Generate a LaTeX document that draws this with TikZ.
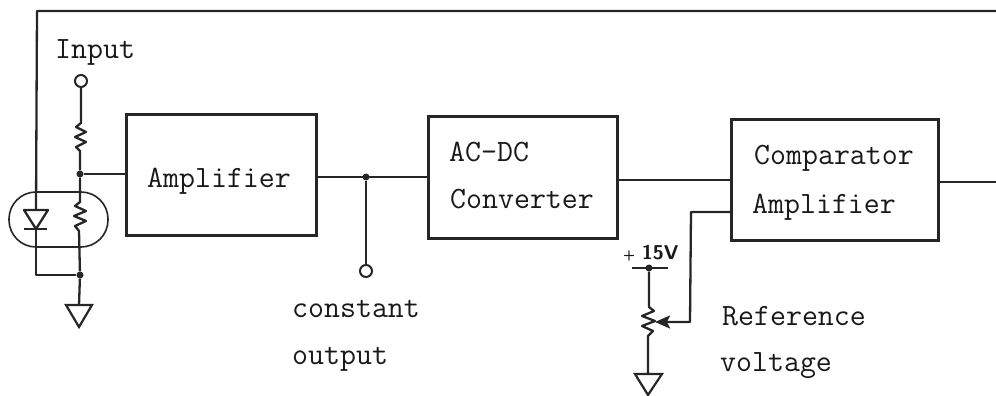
\documentclass[tikz,border=0pt]{standalone}
\usetikzlibrary{arrows.meta}
\begin{document}
\begin{tikzpicture}[x=1pt,y=-1pt,
  wire/.style={line width=2.3pt,black!85,line join=round},
  thinwire/.style={line width=1.6pt,black!85},
  blockbox/.style={draw=black!85,line width=2.6pt,inner sep=0pt,anchor=north west},
  label/.style={font=\fontsize{31}{31}\selectfont\ttfamily,text=black!90,inner sep=0pt,anchor=base west},
  terminal/.style={circle,draw=black!85,fill=white,line width=2pt,minimum size=12pt,inner sep=0pt},
  junction/.style={circle,fill=black!85,minimum size=7pt,inner sep=0pt},
  gnd/.style={line width=2.2pt,black!85,line join=miter}]
\useasboundingbox (0,0) rectangle (996,396);
\clip (0,0) rectangle (996,396);

% blocks
\node[blockbox,minimum width=190pt,minimum height=121pt] (amp) at (125,113) {};
\node[blockbox,minimum width=189pt,minimum height=122pt] (conv) at (427,115) {};
\node[blockbox,minimum width=207pt,minimum height=121pt] (comp) at (730,118) {};

% block texts
\node[label] (tamp) at (147,187) {Amplifier};
\node[label] (tac) at (449,161) {AC-DC};
\node[label] (tconv) at (450,208) {Converter};
\node[label] (tcomp) at (754,164) {Comparator};
\node[label] (tamp2) at (752,213) {Amplifier};
\node[label] (tin) at (55,59) {Input};
\node[label] (tcon) at (292,317) {constant};
\node[label] (tout) at (292,364) {output};
\node[label] (tref) at (722,325) {Reference};
\node[label] (tvol) at (720,371) {voltage};
\node[inner sep=0pt,anchor=base west,text=black!90,font=\fontsize{20}{20}\selectfont\sffamily\bfseries] (t15) at (623,259) {{\fontsize{14}{14}\selectfont +}\,\,15V};

% terminals and junctions
\node[terminal] (inT) at (81,81) {};
\node[junction] (j1) at (80,174) {};
\node[junction] (j2) at (80,275) {};
\node[junction] (j3) at (366,177) {};
\node[terminal] (outT) at (366,271) {};
\node[junction] (j4) at (649,268) {};
\coordinate (fbTL) at (37,11);
\coordinate (fbR) at (996,11);
\coordinate (dA) at (36,210);
\coordinate (dK) at (36,229);
\coordinate (g1) at (79,305);
\coordinate (g2) at (648,374);
\coordinate (potT) at (649,307);
\coordinate (potB) at (648,336);
\coordinate (potW) at (655,322);
\coordinate (refC) at (691,212);
\coordinate (refD) at (690,322);
\coordinate (outR) at (996,182);

% optocoupler
\draw[thinwire,rounded corners=27pt] (9,192) rectangle (108,247);

% feedback line and diode
\draw[wire] (fbR) -- (fbTL) -- (dA);
\draw[wire] (dK) -- (36,275) -- (j2);
\draw[wire,fill=white] (dA) ++(-12,0) -- ++(24,0) -- (dK) -- cycle;
\draw[wire] (24,229) -- (47,229);

% input divider
\draw[wire] (inT) -- (81,123) -- (76,127) -- (86,132) -- (75,137) -- (86,142) -- (76,147) -- (80,151) -- (j1);
\draw[wire] (j1) -- (80,202) -- (75,206) -- (86,211) -- (74,216) -- (86,221) -- (75,226) -- (79,231) -- (j2);
\draw[wire] (j1) -- (j1-|amp.west);
\draw[wire] (j2) -- (g1);
\draw[gnd] (g1) ++(-13,0) -- ++(26,0) -- (79,327) -- cycle;

% signal chain
\draw[wire] (315,177) -- (conv.west|-j3);
\draw[wire] (j3) -- (outT);
\draw[wire] (616,180) -- (730,180);
\draw[wire] (937,182) -- (outR);

% reference potentiometer
\draw[wire] (632,268) -- (668,268);
\draw[wire] (j4) -- (potT) -- (654,311) -- (642,316) -- (655,321) -- (642,326) -- (653,331) -- (potB) -- (648,374);
\draw[gnd] (g2) ++(-13,0) -- ++(27,0) -- (648,395) -- cycle;
\draw[wire] (comp.west|-refC) -- (refC) -- (refD) -- (668,322);
\draw[wire,-{Stealth[length=15pt,width=13pt,inset=3pt]}] (669,322) -- (potW);
\end{tikzpicture}
\end{document}
